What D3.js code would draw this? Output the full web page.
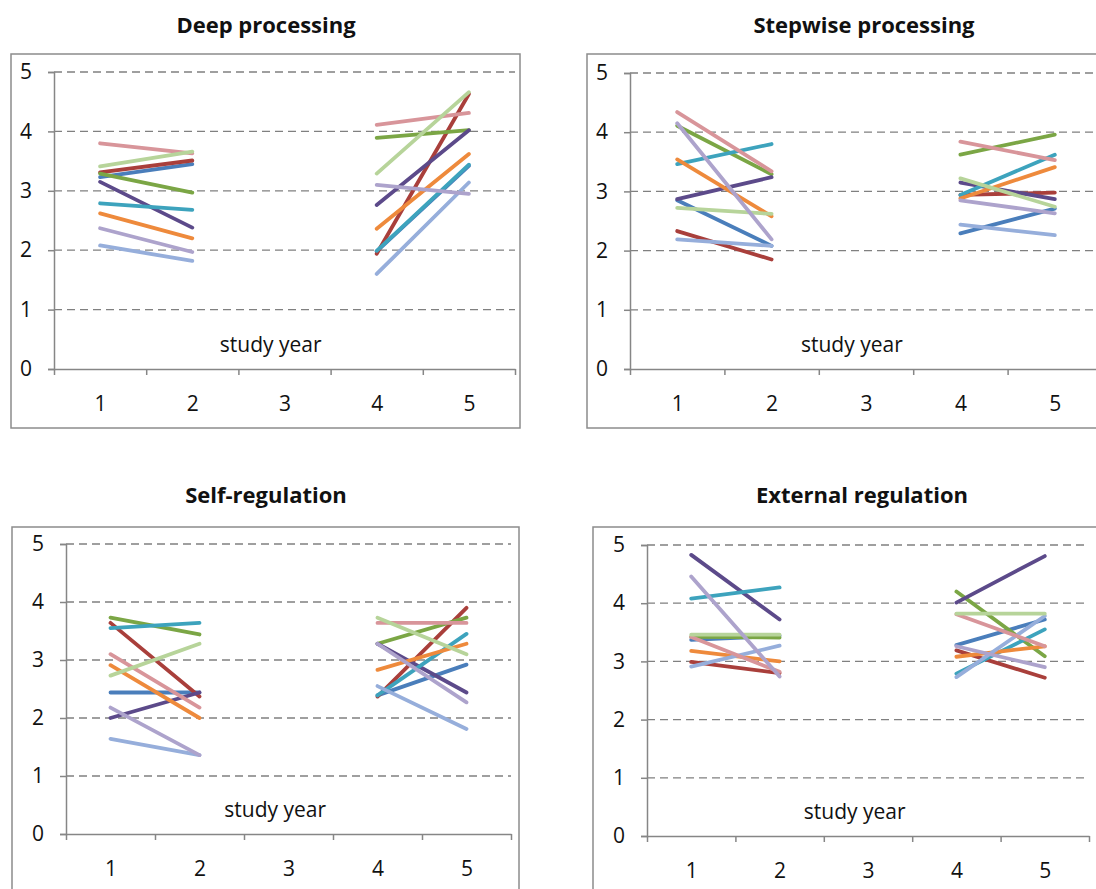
<!DOCTYPE html>
<html>
<head>
<meta charset="utf-8">
<script src="https://cdn.jsdelivr.net/npm/d3@7"></script>
<style>
  body { margin: 0; background: #fff; }
  svg text { font-family: "Open Sans", "DejaVu Sans", sans-serif; fill: #111; }
</style>
</head>
<body>
<div id="chart"></div>
<script>
// study years on the x axis (year 3 has no data)
const years = [1, 2, 3, 4, 5];
const yTicks = [0, 1, 2, 3, 4, 5];

// one colour per student group, same order as the value arrays
const seriesColors = ["#4a7ebb", "#a93f3b", "#7ba645", "#5c4a8a", "#3da3bd",
                      "#ee8a3c", "#96aedb", "#d8959a", "#b7d49a", "#ada3cc"];

// Deep processing
const deepYear1 = [3.23, 3.31, 3.29, 3.15, 2.79, 2.62, 2.08, 3.80, 3.41, 2.37];
const deepYear2 = [3.45, 3.51, 2.97, 2.38, 2.68, 2.20, 1.82, 3.63, 3.66, 1.97];
const deepYear4 = [1.98, 1.94, 3.89, 2.76, 1.99, 2.36, 1.60, 4.11, 3.29, 3.10];
const deepYear5 = [3.42, 4.63, 4.02, 4.02, 3.44, 3.62, 3.14, 4.31, 4.66, 2.95];

// Stepwise processing
const stepYear1 = [2.85, 2.33, 4.11, 2.87, 3.46, 3.54, 2.19, 4.34, 2.72, 4.15];
const stepYear2 = [2.08, 1.85, 3.29, 3.24, 3.80, 2.58, 2.08, 3.34, 2.62, 2.19];
const stepYear4 = [2.29, 2.94, 3.62, 3.15, 2.94, 2.88, 2.44, 3.84, 3.22, 2.85];
const stepYear5 = [2.71, 2.98, 3.96, 2.87, 3.62, 3.41, 2.26, 3.53, 2.74, 2.63];

// Self-regulation
const selfYear1 = [2.44, 3.64, 3.73, 2.00, 3.55, 2.91, 1.64, 3.10, 2.73, 2.18];
const selfYear2 = [2.44, 2.37, 3.44, 2.44, 3.64, 2.00, 1.36, 2.18, 3.28, 1.36];
const selfYear4 = [2.39, 2.37, 3.28, 3.28, 2.39, 2.83, 2.55, 3.64, 3.73, 3.28];
const selfYear5 = [2.92, 3.90, 3.73, 2.44, 3.45, 3.28, 1.81, 3.64, 3.10, 2.27];

// External regulation
const extYear1 = [3.37, 2.99, 3.42, 4.83, 4.08, 3.18, 2.91, 3.42, 3.46, 4.46];
const extYear2 = [3.44, 2.80, 3.41, 3.72, 4.27, 3.00, 3.27, 2.82, 3.46, 2.74];
const extYear4 = [3.28, 3.19, 4.20, 4.01, 2.79, 3.08, 2.73, 3.81, 3.82, 3.26];
const extYear5 = [3.72, 2.72, 3.09, 4.81, 3.55, 3.26, 3.78, 3.26, 3.82, 2.90];

// panel boxes: frame = [x, y, w, h], plot = [left, right, bottom(0), top(5)]
const panels = [
  { title: "Deep processing", cols: [deepYear1, deepYear2, deepYear4, deepYear5],
    frame: [11, 54, 509, 374], plot: [54, 515, 369, 72], tx: 266, ty: 33 },
  { title: "Stepwise processing", cols: [stepYear1, stepYear2, stepYear4, stepYear5],
    frame: [587, 54, 540, 374], plot: [630, 1102, 369, 73], tx: 864, ty: 33 },
  { title: "Self-regulation", cols: [selfYear1, selfYear2, selfYear4, selfYear5],
    frame: [12, 527, 507, 400], plot: [66, 511, 834, 544], tx: 266, ty: 503 },
  { title: "External regulation", cols: [extYear1, extYear2, extYear4, extYear5],
    frame: [593, 527, 540, 400], plot: [647, 1089, 836, 545], tx: 862, ty: 503 }
];

const svg = d3.select("#chart").append("svg")
  .attr("width", 1096)
  .attr("height", 889);

const line = d3.line()
  .defined(d => d.v != null);

panels.forEach(p => {
  const [left, right, bottom, top] = p.plot;
  const x = d3.scaleLinear().domain([0.5, 5.5]).range([left, right]);
  const y = d3.scaleLinear().domain([0, 5]).range([bottom, top]);
  const g = svg.append("g");

  // title
  g.append("text")
    .attr("x", p.tx).attr("y", p.ty)
    .attr("text-anchor", "middle")
    .style("font-size", "22px")
    .style("font-weight", "bold")
    .text(p.title);

  // chart frame
  g.append("rect")
    .attr("x", p.frame[0]).attr("y", p.frame[1])
    .attr("width", p.frame[2]).attr("height", p.frame[3])
    .attr("fill", "none")
    .attr("stroke", "#8c8c8c")
    .attr("stroke-width", 1.5);

  // dashed gridlines
  g.append("g").selectAll("line")
    .data(yTicks.filter(t => t > 0))
    .join("line")
    .attr("x1", left).attr("x2", right)
    .attr("y1", d => y(d)).attr("y2", d => y(d))
    .attr("stroke", "#808080")
    .attr("stroke-width", 1.3)
    .attr("stroke-dasharray", "8,5");

  // y axis
  const yAxis = g.append("g")
    .attr("transform", "translate(" + left + ",0)")
    .call(d3.axisLeft(y).tickValues(yTicks).tickSize(6).tickPadding(16).tickFormat(d3.format("d")));

  // x axis: labels centred in each band, tick marks on band edges
  const xLabels = g.append("g")
    .attr("transform", "translate(0," + bottom + ")")
    .call(d3.axisBottom(x).tickValues(years).tickSize(0).tickPadding(27).tickFormat(d3.format("d")));
  xLabels.select(".domain").remove();

  const xAxis = g.append("g")
    .attr("transform", "translate(0," + bottom + ")")
    .call(d3.axisBottom(x).tickValues([0.5, 1.5, 2.5, 3.5, 4.5, 5.5]).tickSize(6).tickSizeOuter(0).tickFormat(""));

  [yAxis, xAxis, xLabels].forEach(a => {
    a.selectAll(".domain, .tick line").attr("stroke", "#868686").attr("stroke-width", 1.5);
    a.selectAll("text").style("font-size", "21px").attr("fill", "#111").style("font-family", "Open Sans");
  });

  // axis title
  g.append("text")
    .attr("x", left + 0.47 * (right - left))
    .attr("y", bottom - 17)
    .attr("text-anchor", "middle")
    .style("font-size", "21px")
    .text("study year");

  // one polyline per series, broken at year 3
  seriesColors.forEach((c, i) => {
    const pts = [
      { yr: 1, v: p.cols[0][i] },
      { yr: 2, v: p.cols[1][i] },
      { yr: 3, v: null },
      { yr: 4, v: p.cols[2][i] },
      { yr: 5, v: p.cols[3][i] }
    ];
    g.append("path")
      .datum(pts)
      .attr("d", line.x(d => x(d.yr)).y(d => y(d.v)))
      .attr("fill", "none")
      .attr("stroke", c)
      .attr("stroke-width", 3.8)
      .attr("stroke-linecap", "round");
  });
});
</script>
</body>
</html>
